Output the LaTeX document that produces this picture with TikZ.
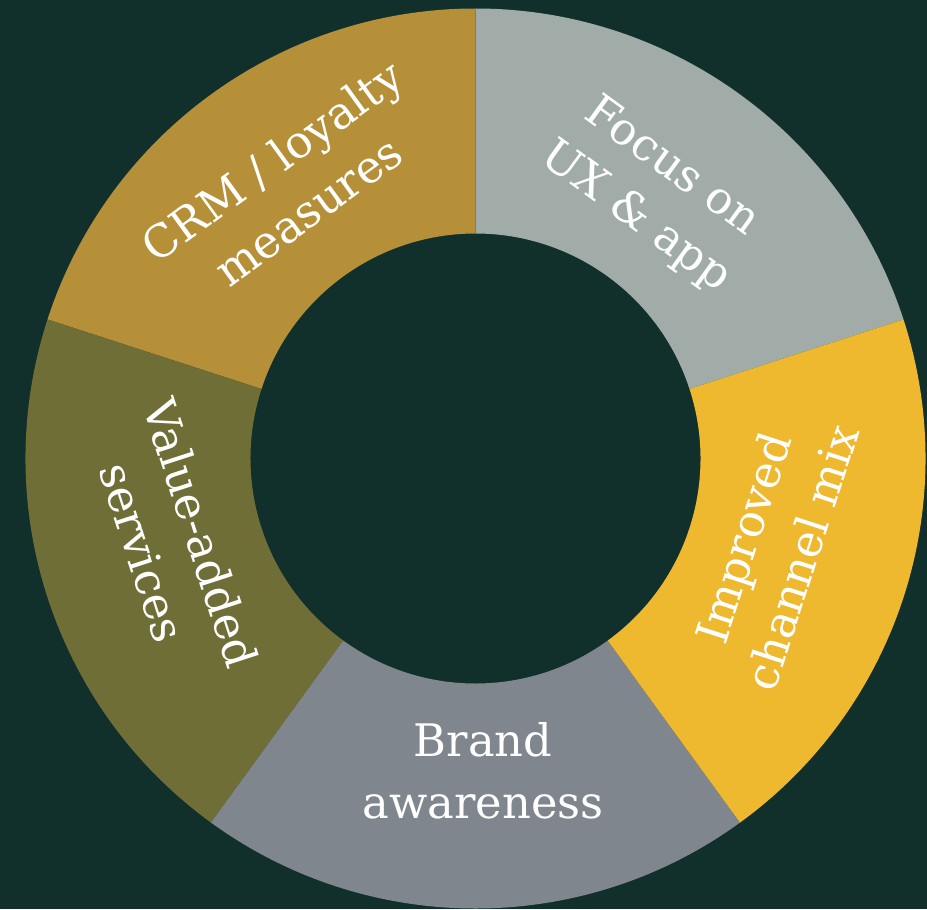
\documentclass[tikz,border=0pt]{standalone}
\usepackage{fontspec}
\setmainfont{DejaVu Serif}
\definecolor{bgdark}{HTML}{12302B}
\definecolor{crmgold}{HTML}{B59038}
\definecolor{uxgray}{HTML}{A1ACA9}
\definecolor{mixyellow}{HTML}{EFB92F}
\definecolor{brandgray}{HTML}{7F868E}
\definecolor{valueolive}{HTML}{6F6E37}
\begin{document}
\begin{tikzpicture}[
	seglabel/.style={text=white, align=center, inner sep=0pt, font=\fontsize{25.5}{35}\selectfont}
	]
	
	\fill[bgdark] (-9.51,-9.01) rectangle (9.03,9.17);
	\useasboundingbox (-9.51,-9.01) rectangle (9.03,9.17);
	
	% ring segments, 72 degrees each
	\fill[uxgray] (18:9) arc (18:90:9) -- (90:4.5) arc (90:18:4.5) -- cycle;
	\fill[crmgold] (90:9) arc (90:162:9) -- (162:4.5) arc (162:90:4.5) -- cycle;
	\fill[valueolive] (162:9) arc (162:234:9) -- (234:4.5) arc (234:162:4.5) -- cycle;
	\fill[brandgray] (234:9) arc (234:306:9) -- (306:4.5) arc (306:234:4.5) -- cycle;
	\fill[mixyellow] (306:9) arc (306:378:9) -- (378:4.5) arc (378:306:4.5) -- cycle;
	
	\node[seglabel, rotate=-36] (focus) at (56.2:6.4) {Focus on\\UX \& app};
	\node[seglabel, rotate=36] (crm) at (124.2:6.6) {CRM / loyalty\\measures};
	\node[seglabel, rotate=-72] (value) at (195.5:6.3) {Value-added\\services};
	\node[seglabel] (brand) at (-88.6:6.25) {Brand\\awareness};
	\node[seglabel, rotate=72] (channel) at (-16.7:6.2) {Improved\\channel mix};
	
\end{tikzpicture}
\end{document}
